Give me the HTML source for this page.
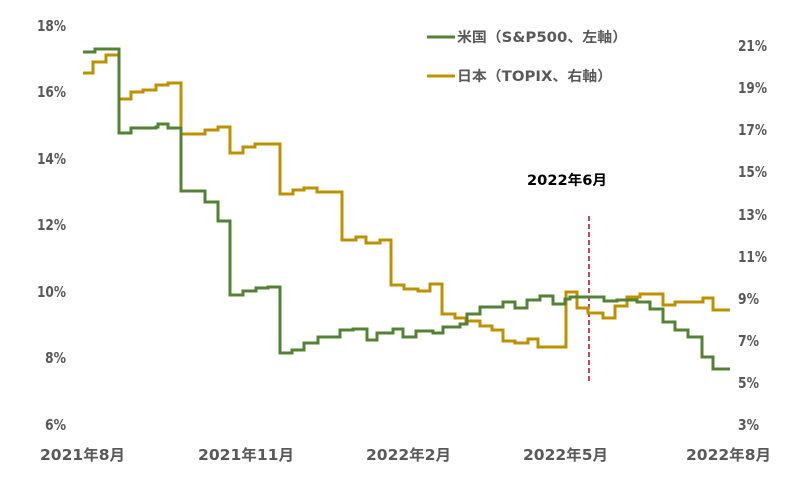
<!DOCTYPE html>
<html><head><meta charset="utf-8"><style>
html,body{margin:0;padding:0;background:#fff;}
svg text{font-family:"DejaVu Sans","Noto Sans CJK JP",sans-serif;}
</style></head><body>
<svg width="790" height="495" viewBox="0 0 790 495" xmlns="http://www.w3.org/2000/svg">
<g font-size="15" font-weight="bold" fill="#595959">
<g text-anchor="end">
<text x="66" y="31" textLength="29" lengthAdjust="spacingAndGlyphs">18%</text>
<text x="66" y="97" textLength="29" lengthAdjust="spacingAndGlyphs">16%</text>
<text x="66" y="164" textLength="29" lengthAdjust="spacingAndGlyphs">14%</text>
<text x="66" y="230" textLength="29" lengthAdjust="spacingAndGlyphs">12%</text>
<text x="66" y="297" textLength="29" lengthAdjust="spacingAndGlyphs">10%</text>
<text x="66" y="363" textLength="21" lengthAdjust="spacingAndGlyphs">8%</text>
<text x="66" y="430" textLength="21" lengthAdjust="spacingAndGlyphs">6%</text>
</g>
<g text-anchor="start">
<text x="738" y="51" textLength="29" lengthAdjust="spacingAndGlyphs">21%</text>
<text x="738" y="93" textLength="29" lengthAdjust="spacingAndGlyphs">19%</text>
<text x="738" y="135" textLength="29" lengthAdjust="spacingAndGlyphs">17%</text>
<text x="738" y="177" textLength="29" lengthAdjust="spacingAndGlyphs">15%</text>
<text x="738" y="220" textLength="29" lengthAdjust="spacingAndGlyphs">13%</text>
<text x="738" y="262" textLength="29" lengthAdjust="spacingAndGlyphs">11%</text>
<text x="738" y="304" textLength="21" lengthAdjust="spacingAndGlyphs">9%</text>
<text x="738" y="346" textLength="21" lengthAdjust="spacingAndGlyphs">7%</text>
<text x="738" y="388" textLength="21" lengthAdjust="spacingAndGlyphs">5%</text>
<text x="738" y="430" textLength="21" lengthAdjust="spacingAndGlyphs">3%</text>
</g>
<g font-size="15">
<text x="40" y="460" textLength="85" lengthAdjust="spacingAndGlyphs">2021年8月</text>
<text x="198" y="460" textLength="96" lengthAdjust="spacingAndGlyphs">2021年11月</text>
<text x="366" y="460" textLength="85" lengthAdjust="spacingAndGlyphs">2022年2月</text>
<text x="523" y="460" textLength="85" lengthAdjust="spacingAndGlyphs">2022年5月</text>
<text x="686" y="460" textLength="85" lengthAdjust="spacingAndGlyphs">2022年8月</text>
</g>
</g>
<line x1="589" y1="216" x2="589" y2="382" stroke="#A50F15" stroke-width="1.5" stroke-dasharray="5,3"/>
<text x="527" y="185" textLength="80" lengthAdjust="spacingAndGlyphs" font-size="14" font-weight="bold" fill="#000">2022年6月</text>
<g fill="none" stroke-width="3" stroke-linejoin="miter">
<path stroke="#BF9000" d="M83 73H93V62H106V55H119V99H131V92H143V90H156V85H168V83H181V134H205V130H218V127H230V153H243V147H255V144H280V194H293V190H304V188H317V192H342V240H356V237H366V243H380V240H391V285H404V289H418V291H430V284H442V314H455V318H466V321H480V326H492V330H503V341H515V343H528V339H538V347H566V292H577V308H588V313H603V318H615V306H627V297H640V294H663V305H675V302H703V298H713V310H730"/>
<path stroke="#548235" d="M83 52H95V49H119V133H131V128H156V127H158V124H168V128H181V191H205V202H218V221H230V295H243V291H256V288H268V287H280V353H292V350H304V343H318V337H340V330H353V329H367V340H377V333H393V329H403V337H416V331H433V333H443V327H460V324H467V314H480V307H503V302H515V308H527V300H540V296H553V304H565V299H570V297H604V301H617V300H637V302H650V309H663V322H675V330H688V337H702V357H713V369H730"/>
</g>
<line x1="427" y1="37" x2="455" y2="37" stroke="#548235" stroke-width="3"/>
<line x1="427" y1="76" x2="455" y2="76" stroke="#BF9000" stroke-width="3"/>
<g font-size="14" font-weight="bold" fill="#595959">
<text x="457" y="42" textLength="170" lengthAdjust="spacingAndGlyphs">米国（S&amp;P500、左軸）</text>
<text x="457" y="81" textLength="155" lengthAdjust="spacingAndGlyphs">日本（TOPIX、右軸）</text>
</g>
</svg>
</body></html>
